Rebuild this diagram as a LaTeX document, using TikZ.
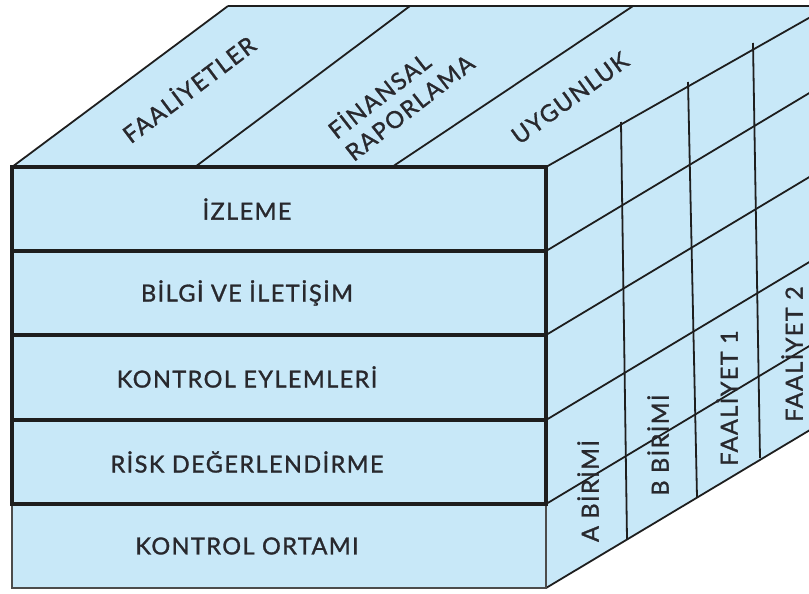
\documentclass[tikz,border=0pt]{standalone}
\usepackage{fontspec}
\setmainfont[LetterSpace=6,FakeBold=1.2]{Lato}
\definecolor{cubeblue}{RGB}{200,232,248}
\definecolor{cubeline}{RGB}{30,30,30}
\definecolor{cubetext}{RGB}{40,40,45}

\begin{document}
\begin{tikzpicture}[x=1pt,y=-1pt,
    every node/.style={font=\fontsize{23.5}{28}\selectfont, text=cubetext, inner sep=0pt},
    heavy/.style={line width=3.2pt, draw=cubeline, line cap=rect},
    light/.style={line width=1.8pt, draw=cubeline},
    faint/.style={line width=1.2pt, draw=black!70}]
  \useasboundingbox (0,0) rectangle (809,594);
  \clip (0,0) rectangle (809,594);

  % corners
  \coordinate (ftl) at (12,167);
  \coordinate (ftr) at (546,167);
  \coordinate (fbl) at (12,588);
  \coordinate (fbr) at (546,588);
  \coordinate (btl) at (228,6);
  \coordinate (btr) at (830,6);
  \coordinate (sbr) at (830,418);

  \fill[cubeblue] (ftl) -- (btl) -- (btr) -- (sbr) -- (fbr) -- (fbl) -- cycle;

  % side face
  \foreach \y in {251,335,420,504} {
    \draw[light] (546,\y) -- ++(290,-174);
  }
  \draw[light] (fbr) -- (sbr);
  \draw[light] (621,122) -- (627,539);
  \draw[light] (688,82) -- (697,497);
  \draw[light] (753,43) -- (760,458);
  \draw[light] (815,6) -- (824,420);

  % top face
  \draw[light] (btl) -- (btr);
  \draw[light] (ftl) -- (btl);
  \draw[light] (195,167) -- (410,6);
  \draw[light] (392,167) -- (633,6);
  \draw[light] (ftr) -- (btr);

  % front face
  \draw[faint] (12,504) -- (fbl) -- (fbr) -- (546,504);
  \draw[heavy] (12,504) -- (ftl) -- (ftr) -- (546,504);
  \foreach \y in {251,335,420,504} {
    \draw[heavy] (12,\y) -- (546,\y);
  }

  \node (izleme) at (247,209) {İZLEME};
  \node (bilgi) at (247,293) {BİLGİ VE İLETİŞİM};
  \node (eylem) at (247,377) {KONTROL EYLEMLERİ};
  \node (risk) at (247,462) {RİSK DEĞERLENDİRME};
  \node (ortam) at (247,546) {KONTROL ORTAMI};

  \node[rotate=37] (faaliyetler) at (188,88) {FAALİYETLER};
  \node[rotate=38, align=left] (finansal) at (400,95) {FİNANSAL\\RAPORLAMA};
  \node[rotate=36] (uygunluk) at (570,98) {UYGUNLUK};

  \node[rotate=90] (abirim) at (588,491) {A BİRİMİ};
  \node[rotate=90] (bbirim) at (658,445) {B BİRİMİ};
  \node[rotate=90] (faal1) at (727,398) {FAALİYET 1};
  \node[rotate=90] (faal2) at (792,354) {FAALİYET 2};
\end{tikzpicture}
\end{document}
